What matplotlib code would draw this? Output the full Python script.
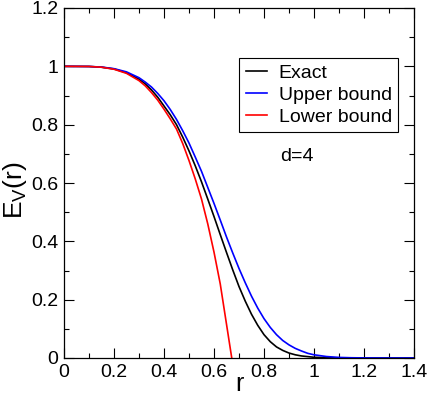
import numpy as np
import matplotlib
matplotlib.use('Agg')
import matplotlib.pyplot as plt
from matplotlib.ticker import MultipleLocator, FormatStrFormatter

plt.rcParams['font.family'] = ['Liberation Sans', 'DejaVu Sans']
plt.rcParams['mathtext.fontset'] = 'custom'
plt.rcParams['mathtext.rm'] = 'Liberation Sans'
plt.rcParams['mathtext.it'] = 'Liberation Sans'
plt.rcParams['xtick.labelsize'] = 14
plt.rcParams['ytick.labelsize'] = 14

# values
r_exact = [0, 0.1, 0.15, 0.2, 0.25, 0.3, 0.325, 0.35, 0.375, 0.4, 0.425, 0.45, 0.475,
           0.5, 0.525, 0.55, 0.575, 0.6, 0.625, 0.65, 0.675, 0.7, 0.725, 0.75, 0.775,
           0.8, 0.825, 0.85, 0.875, 0.9, 0.925, 0.95, 1.0, 1.05, 1.1, 1.2, 1.4]
e_exact = [1.0, 0.9995, 0.997, 0.991, 0.978, 0.956, 0.940, 0.919, 0.894, 0.864, 0.834,
           0.800, 0.757, 0.710, 0.659, 0.604, 0.545, 0.485, 0.423, 0.362, 0.302, 0.245,
           0.195, 0.150, 0.112, 0.080, 0.056, 0.038, 0.026, 0.017, 0.011, 0.007, 0.0025,
           0.001, 0.0003, 0.0, 0.0]

r_upper = [0, 0.1, 0.15, 0.2, 0.25, 0.3, 0.325, 0.35, 0.375, 0.4, 0.425, 0.45, 0.475,
           0.5, 0.525, 0.55, 0.575, 0.6, 0.625, 0.65, 0.675, 0.7, 0.725, 0.75, 0.775,
           0.8, 0.825, 0.85, 0.875, 0.9, 0.925, 0.95, 0.975, 1.0, 1.05, 1.1, 1.15, 1.2,
           1.3, 1.4]
e_upper = [1.0, 0.9995, 0.9975, 0.992, 0.981, 0.961, 0.946, 0.929, 0.907, 0.882, 0.852,
           0.818, 0.779, 0.737, 0.689, 0.640, 0.585, 0.530, 0.473, 0.415, 0.360, 0.307,
           0.258, 0.212, 0.171, 0.135, 0.105, 0.080, 0.060, 0.045, 0.033, 0.024, 0.016,
           0.011, 0.005, 0.002, 0.0008, 0.0003, 0.0, 0.0]

r_lower = [0, 0.1, 0.15, 0.2, 0.25, 0.3, 0.325, 0.35, 0.375, 0.4, 0.425, 0.45, 0.475,
           0.5, 0.525, 0.55, 0.575, 0.6, 0.625, 0.65, 0.671]
e_lower = [1.0, 0.9995, 0.997, 0.990, 0.976, 0.951, 0.933, 0.910, 0.884, 0.853, 0.820,
           0.785, 0.735, 0.677, 0.614, 0.545, 0.460, 0.363, 0.254, 0.116, 0.0]


def make_plot():
    fig = plt.figure(figsize=(4.29, 3.97), dpi=100)
    ax = fig.add_axes([64 / 429, 39 / 397, 350 / 429, 350 / 397])

    ax.plot(r_exact, e_exact, color='black', lw=1.2, label='Exact')
    ax.plot(r_upper, e_upper, color='blue', lw=1.2, label='Upper bound')
    ax.plot(r_lower, e_lower, color='red', lw=1.2, label='Lower bound')

    ax.set_xlim(0, 1.4)
    ax.set_ylim(0, 1.2)
    ax.xaxis.set_major_locator(MultipleLocator(0.2))
    ax.xaxis.set_minor_locator(MultipleLocator(0.1))
    ax.yaxis.set_major_locator(MultipleLocator(0.2))
    ax.yaxis.set_minor_locator(MultipleLocator(0.1))
    ax.xaxis.set_major_formatter(FormatStrFormatter('%g'))
    ax.yaxis.set_major_formatter(FormatStrFormatter('%g'))
    ax.tick_params(which='both', direction='in', top=True, right=True, width=0.8)
    ax.tick_params(which='major', length=7, pad=4)
    ax.tick_params(which='minor', length=3.5)
    for s in ax.spines.values():
        s.set_linewidth(0.9)

    ax.set_xlabel('r', fontsize=18, labelpad=-6)
    ax.set_ylabel(r'E$_\mathrm{V}$(r)', fontsize=19)
    ax.yaxis.set_label_coords(-0.1, 0.48)

    ax.text(0.931, 0.69, 'd=4', fontsize=14, ha='center', va='center')

    leg = ax.legend(loc='upper left', bbox_to_anchor=(0.501, 0.858), fontsize=14,
                    handlelength=1.1, handletextpad=0.6, labelspacing=0.24,
                    borderpad=0.32, borderaxespad=0, fancybox=False, framealpha=1)
    leg.get_frame().set_edgecolor('black')
    leg.get_frame().set_linewidth(0.8)

    fig.savefig('out.png', dpi=100)


if __name__ == "__main__":
    make_plot()
